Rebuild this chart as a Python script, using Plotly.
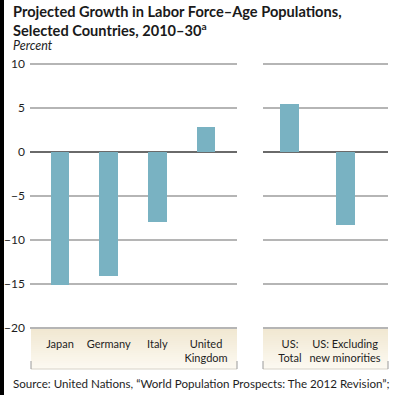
import plotly.graph_objects as go

# ---- data ----
categories_left = ["Japan", "Germany", "Italy", "United<br>Kingdom"]
values_left = [-15.1, -14.1, -7.9, 2.8]
categories_right = ["US:<br>Total", "US: Excluding<br>new minorities"]
values_right = [5.5, -8.3]
y_tickvals = [10, 5, 0, -5, -10, -15, -20]

W, H = 394, 395
def px_x(p):
    return p / W
def px_y(p):
    return 1 - p / H

BAR = "#79b2c2"
FONT = "Lato"
TXT = "#1e1e1e"

fig = go.Figure()
fig.add_trace(go.Bar(x=list(range(len(values_left))), y=values_left, marker=dict(color=BAR, line=dict(width=0)),
                     width=0.38, xaxis="x", yaxis="y", showlegend=False, hoverinfo="skip"))
fig.add_trace(go.Bar(x=list(range(len(values_right))), y=values_right, marker=dict(color=BAR, line=dict(width=0)),
                     width=0.345, xaxis="x2", yaxis="y2", showlegend=False, hoverinfo="skip"))

# y mapping: 10 -> 64px, -20 -> 328px
ppu = (328 - 64) / 30.0
ymin, ymax = -20.5, 10.5
top_px = 64 - (ymax - 10) * ppu
bot_px = 328 + (-20 - ymin) * ppu
ydom = [px_y(bot_px), px_y(top_px)]

yax = dict(range=[ymin, ymax], domain=ydom, tickvals=y_tickvals, showgrid=True,
           gridcolor="#b5b5b5", gridwidth=1.3, zeroline=True, zerolinecolor="#6a6a6a",
           zerolinewidth=2, showline=False, fixedrange=True, automargin=False)

fig.update_layout(
    width=W, height=H, margin=dict(l=0, r=0, t=0, b=0, autoexpand=False),
    paper_bgcolor="white", plot_bgcolor="rgba(0,0,0,0)",
    font=dict(family=FONT, color=TXT, size=11),
    bargap=0,
    xaxis=dict(domain=[px_x(30), px_x(237)], range=[-0.616, 3.637], anchor="y",
               tickvals=list(range(len(categories_left))), ticktext=categories_left,
               ticks="outside", ticklen=1, tickcolor="rgba(0,0,0,0)", showgrid=False,
               zeroline=False, showline=False, tickfont=dict(size=11, color=TXT), automargin=False,
               fixedrange=True),
    xaxis2=dict(domain=[px_x(263), px_x(388)], range=[-0.49, 1.78], anchor="y2",
                tickvals=list(range(len(categories_right))), ticktext=categories_right,
                ticks="outside", ticklen=1, tickcolor="rgba(0,0,0,0)", showgrid=False,
                zeroline=False, showline=False, tickfont=dict(size=11, color=TXT), automargin=False,
                fixedrange=True),
    yaxis=dict(yax, anchor="x", tickfont=dict(size=12, color=TXT), ticks="", ticklabelstandoff=4),
    yaxis2=dict(yax, anchor="x2", showticklabels=False, matches="y"),
)

shapes = []
# left black border
shapes.append(dict(type="rect", xref="paper", yref="paper", x0=0, x1=px_x(4), y0=0, y1=1,
                   fillcolor="black", line=dict(width=0), layer="above"))
# label boxes with vertical gradient
c_top = (241, 232, 210)
c_bot = (252, 249, 241)
box_top, box_bot = 329, 369
n = 20
for (bx0, bx1) in [(31, 237), (263, 388)]:
    for i in range(n):
        t = i / (n - 1)
        c = tuple(int(round(c_top[k] + (c_bot[k] - c_top[k]) * t)) for k in range(3))
        y0p = box_top + (box_bot - box_top) * i / n
        y1p = box_top + (box_bot - box_top) * (i + 1) / n
        shapes.append(dict(type="rect", xref="paper", yref="paper",
                           x0=px_x(bx0), x1=px_x(bx1), y0=px_y(y1p), y1=px_y(y0p),
                           fillcolor="rgb(%d,%d,%d)" % c, line=dict(width=0), layer="below"))
    # bracket
    shapes.append(dict(type="line", xref="paper", yref="paper", x0=px_x(bx0), x1=px_x(bx1),
                       y0=px_y(box_bot), y1=px_y(box_bot), line=dict(color="#d8d3c8", width=1), layer="below"))
    for xx in (bx0, bx1):
        shapes.append(dict(type="line", xref="paper", yref="paper", x0=px_x(xx), x1=px_x(xx),
                           y0=px_y(box_bot), y1=px_y(box_bot - 8), line=dict(color="#9a9a9a", width=1), layer="below"))
fig.update_layout(shapes=shapes)

annotations = [
    dict(text="<b>Projected Growth in Labor Force–Age Populations,<br>Selected Countries, 2010–30<sup>a</sup></b>",
         x=px_x(11), y=px_y(1), xref="paper", yref="paper", xanchor="left", yanchor="top",
         showarrow=False, align="left", font=dict(family=FONT, size=14.6, color="#1a1a1a")),
    dict(text="<i>Percent</i>", x=px_x(11), y=px_y(46), xref="paper", yref="paper",
         xanchor="left", yanchor="middle", showarrow=False, font=dict(family=FONT, size=12.5, color=TXT)),
    dict(text="Source: United Nations, “World Population Prospects: The 2012 Revision”;",
         x=px_x(11), y=px_y(383), xref="paper", yref="paper", xanchor="left", yanchor="middle",
         showarrow=False, font=dict(family=FONT, size=11.6, color=TXT)),
]
fig.update_layout(annotations=annotations)

fig.write_html("out.html", config={"displayModeBar": False, "staticPlot": True},
               post_script="document.body.style.margin='0';document.body.style.padding='0';")
